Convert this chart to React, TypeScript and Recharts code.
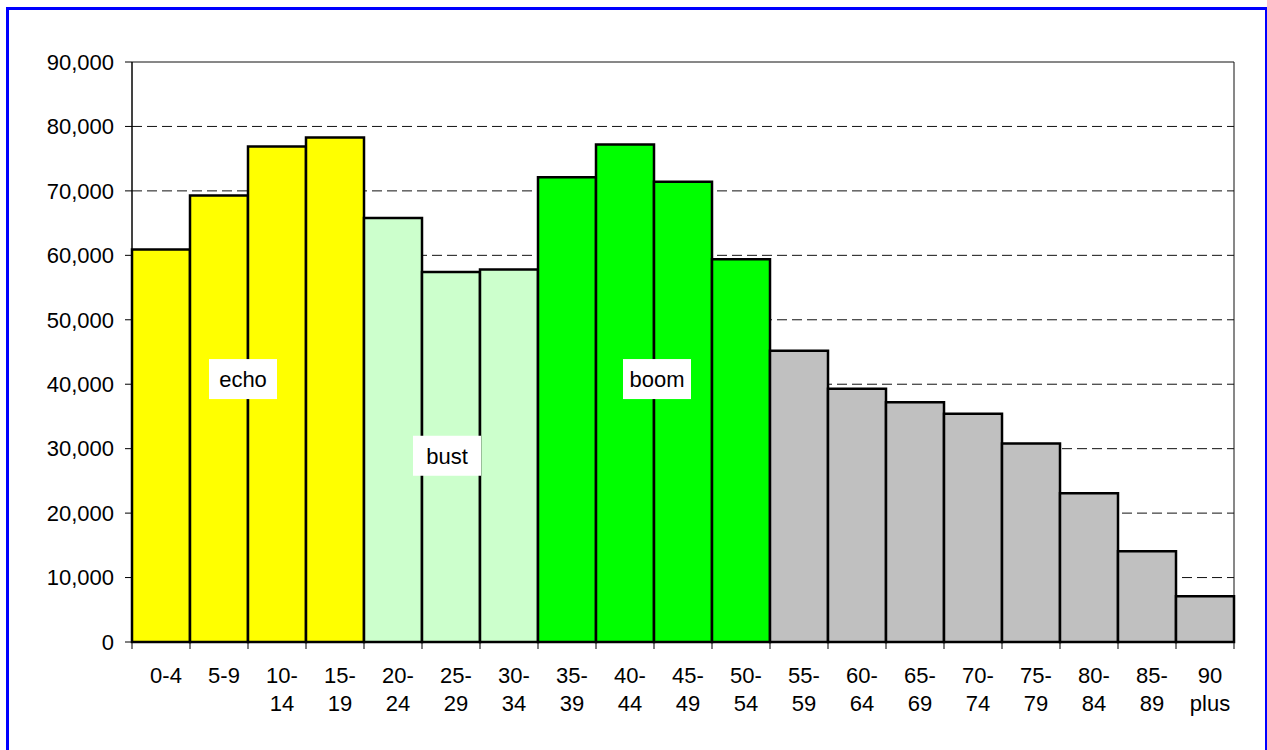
import React from "react";
import {
  BarChart,
  Bar,
  Cell,
  XAxis,
  YAxis,
  CartesianGrid,
  ReferenceArea,
  ReferenceDot,
} from "recharts";

// age groups (a space marks where the label wraps)
const ageGroups = [
  "0-4", "5-9", "10- 14", "15- 19", "20- 24", "25- 29", "30- 34", "35- 39",
  "40- 44", "45- 49", "50- 54", "55- 59", "60- 64", "65- 69", "70- 74",
  "75- 79", "80- 84", "85- 89", "90 plus",
];

const population = [
  60900, 69300, 76900, 78300, 65800, 57400, 57800, 72100, 77200, 71400,
  59400, 45200, 39300, 37200, 35400, 30800, 23100, 14100, 7100,
];

const generation = [
  "echo", "echo", "echo", "echo", "bust", "bust", "bust", "boom", "boom",
  "boom", "boom", "senior", "senior", "senior", "senior", "senior", "senior",
  "senior", "senior",
];

const yTicks = [0, 10000, 20000, 30000, 40000, 50000, 60000, 70000, 80000, 90000];

// generation labels: text, anchor category, value
const notes = [
  { text: "echo", age: "5-9", value: 40800, shift: 24 },
  { text: "bust", age: "25- 29", value: 28900, shift: -4 },
  { text: "boom", age: "40- 44", value: 40800, shift: 32 },
];

const COLORS: Record<string, string> = {
  echo: "#FFFF00",
  bust: "#CCFFCC",
  boom: "#00FF00",
  senior: "#C0C0C0",
};

const FONT = "'Liberation Sans', Arial, sans-serif";
const FS = 22;

const data = ageGroups.map((age, i) => ({ age, population: population[i] }));

// eslint-disable-next-line @typescript-eslint/no-explicit-any
function AgeTick(props: any) {
  const { x, y, payload, index, width } = props;
  const band = width / ageGroups.length;
  const lines = String(payload.value).split(" ");
  const last = index === ageGroups.length - 1;
  return (
    <g>
      <line x1={x - band / 2} x2={x - band / 2} y1={y - 8} y2={y - 1} stroke="#000" strokeWidth={1} />
      {last && (
        <line x1={x + band / 2} x2={x + band / 2} y1={y - 8} y2={y - 1} stroke="#000" strokeWidth={1} />
      )}
      {lines.map((ln: string, k: number) => (
        <text
          key={k}
          x={x + 5}
          y={y + 33 + k * 28}
          textAnchor="middle"
          fontSize={FS}
          fontFamily={FONT}
          fill="#000"
        >
          {ln}
        </text>
      ))}
    </g>
  );
}

// eslint-disable-next-line @typescript-eslint/no-explicit-any
function NoteBox(props: any) {
  const { cx, cy, text, shift } = props;
  const w = text.length * 12 + 20;
  return (
    <g>
      <rect x={cx + shift - w / 2} y={cy - 20} width={w} height={40} fill="#fff" />
      <text
        x={cx + shift}
        y={cy + 8}
        textAnchor="middle"
        fontSize={FS}
        fontFamily={FONT}
        fill="#000"
      >
        {text}
      </text>
    </g>
  );
}

export default function App() {
  return (
    <div style={{ position: "absolute", left: 0, top: 0, width: 1267, height: 750, background: "#fff", overflow: "hidden" }}>
      <style>{`body{margin:0}`}</style>
      <div
        style={{
          position: "absolute",
          left: 6,
          top: 7,
          width: 1261,
          height: 800,
          border: "3px solid #0000FF",
          borderRightWidth: 2,
          boxSizing: "border-box",
        }}
      />
      <div style={{ position: "absolute", left: 0, top: 0 }}>
        <BarChart
          width={1267}
          height={750}
          data={data}
          margin={{ top: 62, right: 33, left: 0, bottom: 0 }}
          barCategoryGap={0}
          barGap={0}
        >
          <CartesianGrid
            vertical={false}
            stroke="#111"
            strokeDasharray="10 5"
            horizontalValues={yTicks.slice(1, -1)}
          />
          <ReferenceArea y1={0} y2={90000} fill="none" stroke="#111" strokeWidth={1} ifOverflow="visible" />
          <XAxis
            dataKey="age"
            height={108}
            interval={0}
            tickLine={false}
            axisLine={{ stroke: "#000", strokeWidth: 1 }}
            tick={<AgeTick />}
          />
          <YAxis
            width={132}
            domain={[0, 90000]}
            ticks={yTicks}
            interval={0}
            tickSize={7}
            tickMargin={11}
            axisLine={{ stroke: "#000", strokeWidth: 1 }}
            tickLine={{ stroke: "#000", strokeWidth: 1 }}
            tick={{ fill: "#000", fontSize: FS, fontFamily: FONT }}
            tickFormatter={(v) => Number(v).toLocaleString("en-US")}
          />
          <Bar dataKey="population" stroke="#000" strokeWidth={2.5} isAnimationActive={false}>
            {data.map((d, i) => (
              <Cell key={d.age} fill={COLORS[generation[i]]} />
            ))}
          </Bar>
          {notes.map((n) => (
            <ReferenceDot
              key={n.text}
              x={n.age}
              y={n.value}
              r={0}
              ifOverflow="visible"
              shape={(p: any) => <NoteBox {...p} text={n.text} shift={n.shift} />}
            />
          ))}
        </BarChart>
      </div>
    </div>
  );
}
